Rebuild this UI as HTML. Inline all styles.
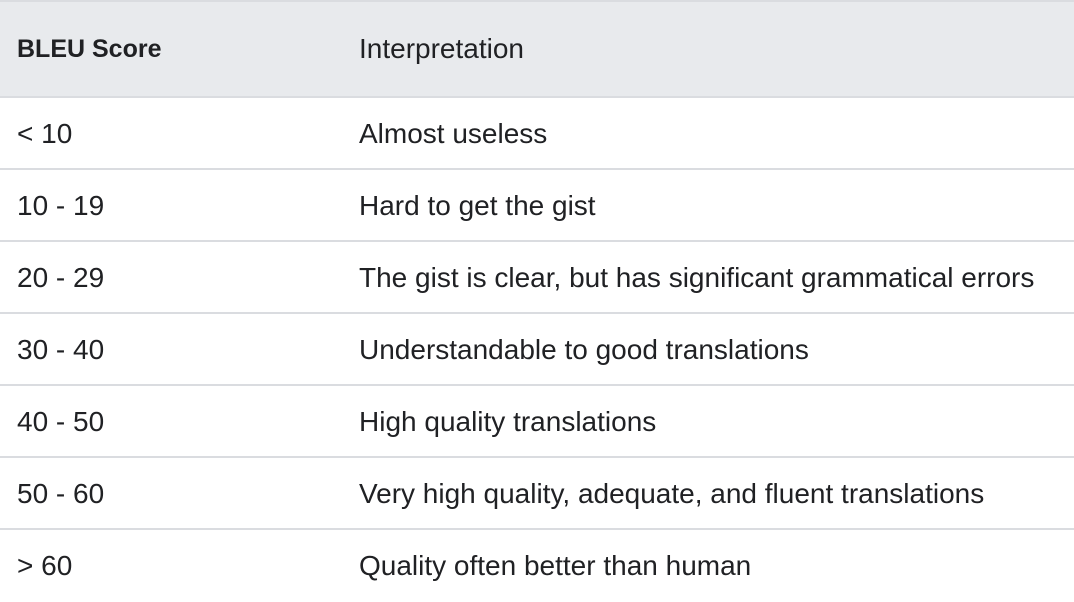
<!DOCTYPE html>
<html><head><style>
body{margin:0;width:1074px;height:592px;background:#fff;font-family:"Liberation Sans",sans-serif;color:#202124;overflow:hidden}
.r{position:absolute;left:0;width:1074px;height:72px;border-top:2px solid #dadce0;box-sizing:border-box;font-size:28px;line-height:72px}
.r span{position:absolute;top:0}
.a{left:17px}.b{left:359px}
.h{background:#e8eaed;height:98px;line-height:94px;border-bottom:2px solid #dadce0}
</style></head><body>
<div class="r h" style="top:0"><span class="a" style="font-weight:bold;font-size:25px">BLEU Score</span><span class="b">Interpretation</span></div>
<div class="r" style="top:96px;border-top:none;padding-top:2px"><span class="a" style="top:2px">&lt; 10</span><span class="b" style="top:2px">Almost useless</span></div>
<div class="r" style="top:168px"><span class="a">10 - 19</span><span class="b">Hard to get the gist</span></div>
<div class="r" style="top:240px"><span class="a">20 - 29</span><span class="b">The gist is clear, but has significant grammatical errors</span></div>
<div class="r" style="top:312px"><span class="a">30 - 40</span><span class="b">Understandable to good translations</span></div>
<div class="r" style="top:384px"><span class="a">40 - 50</span><span class="b">High quality translations</span></div>
<div class="r" style="top:456px"><span class="a">50 - 60</span><span class="b">Very high quality, adequate, and fluent translations</span></div>
<div class="r" style="top:528px"><span class="a">&gt; 60</span><span class="b">Quality often better than human</span></div>
</body></html>
